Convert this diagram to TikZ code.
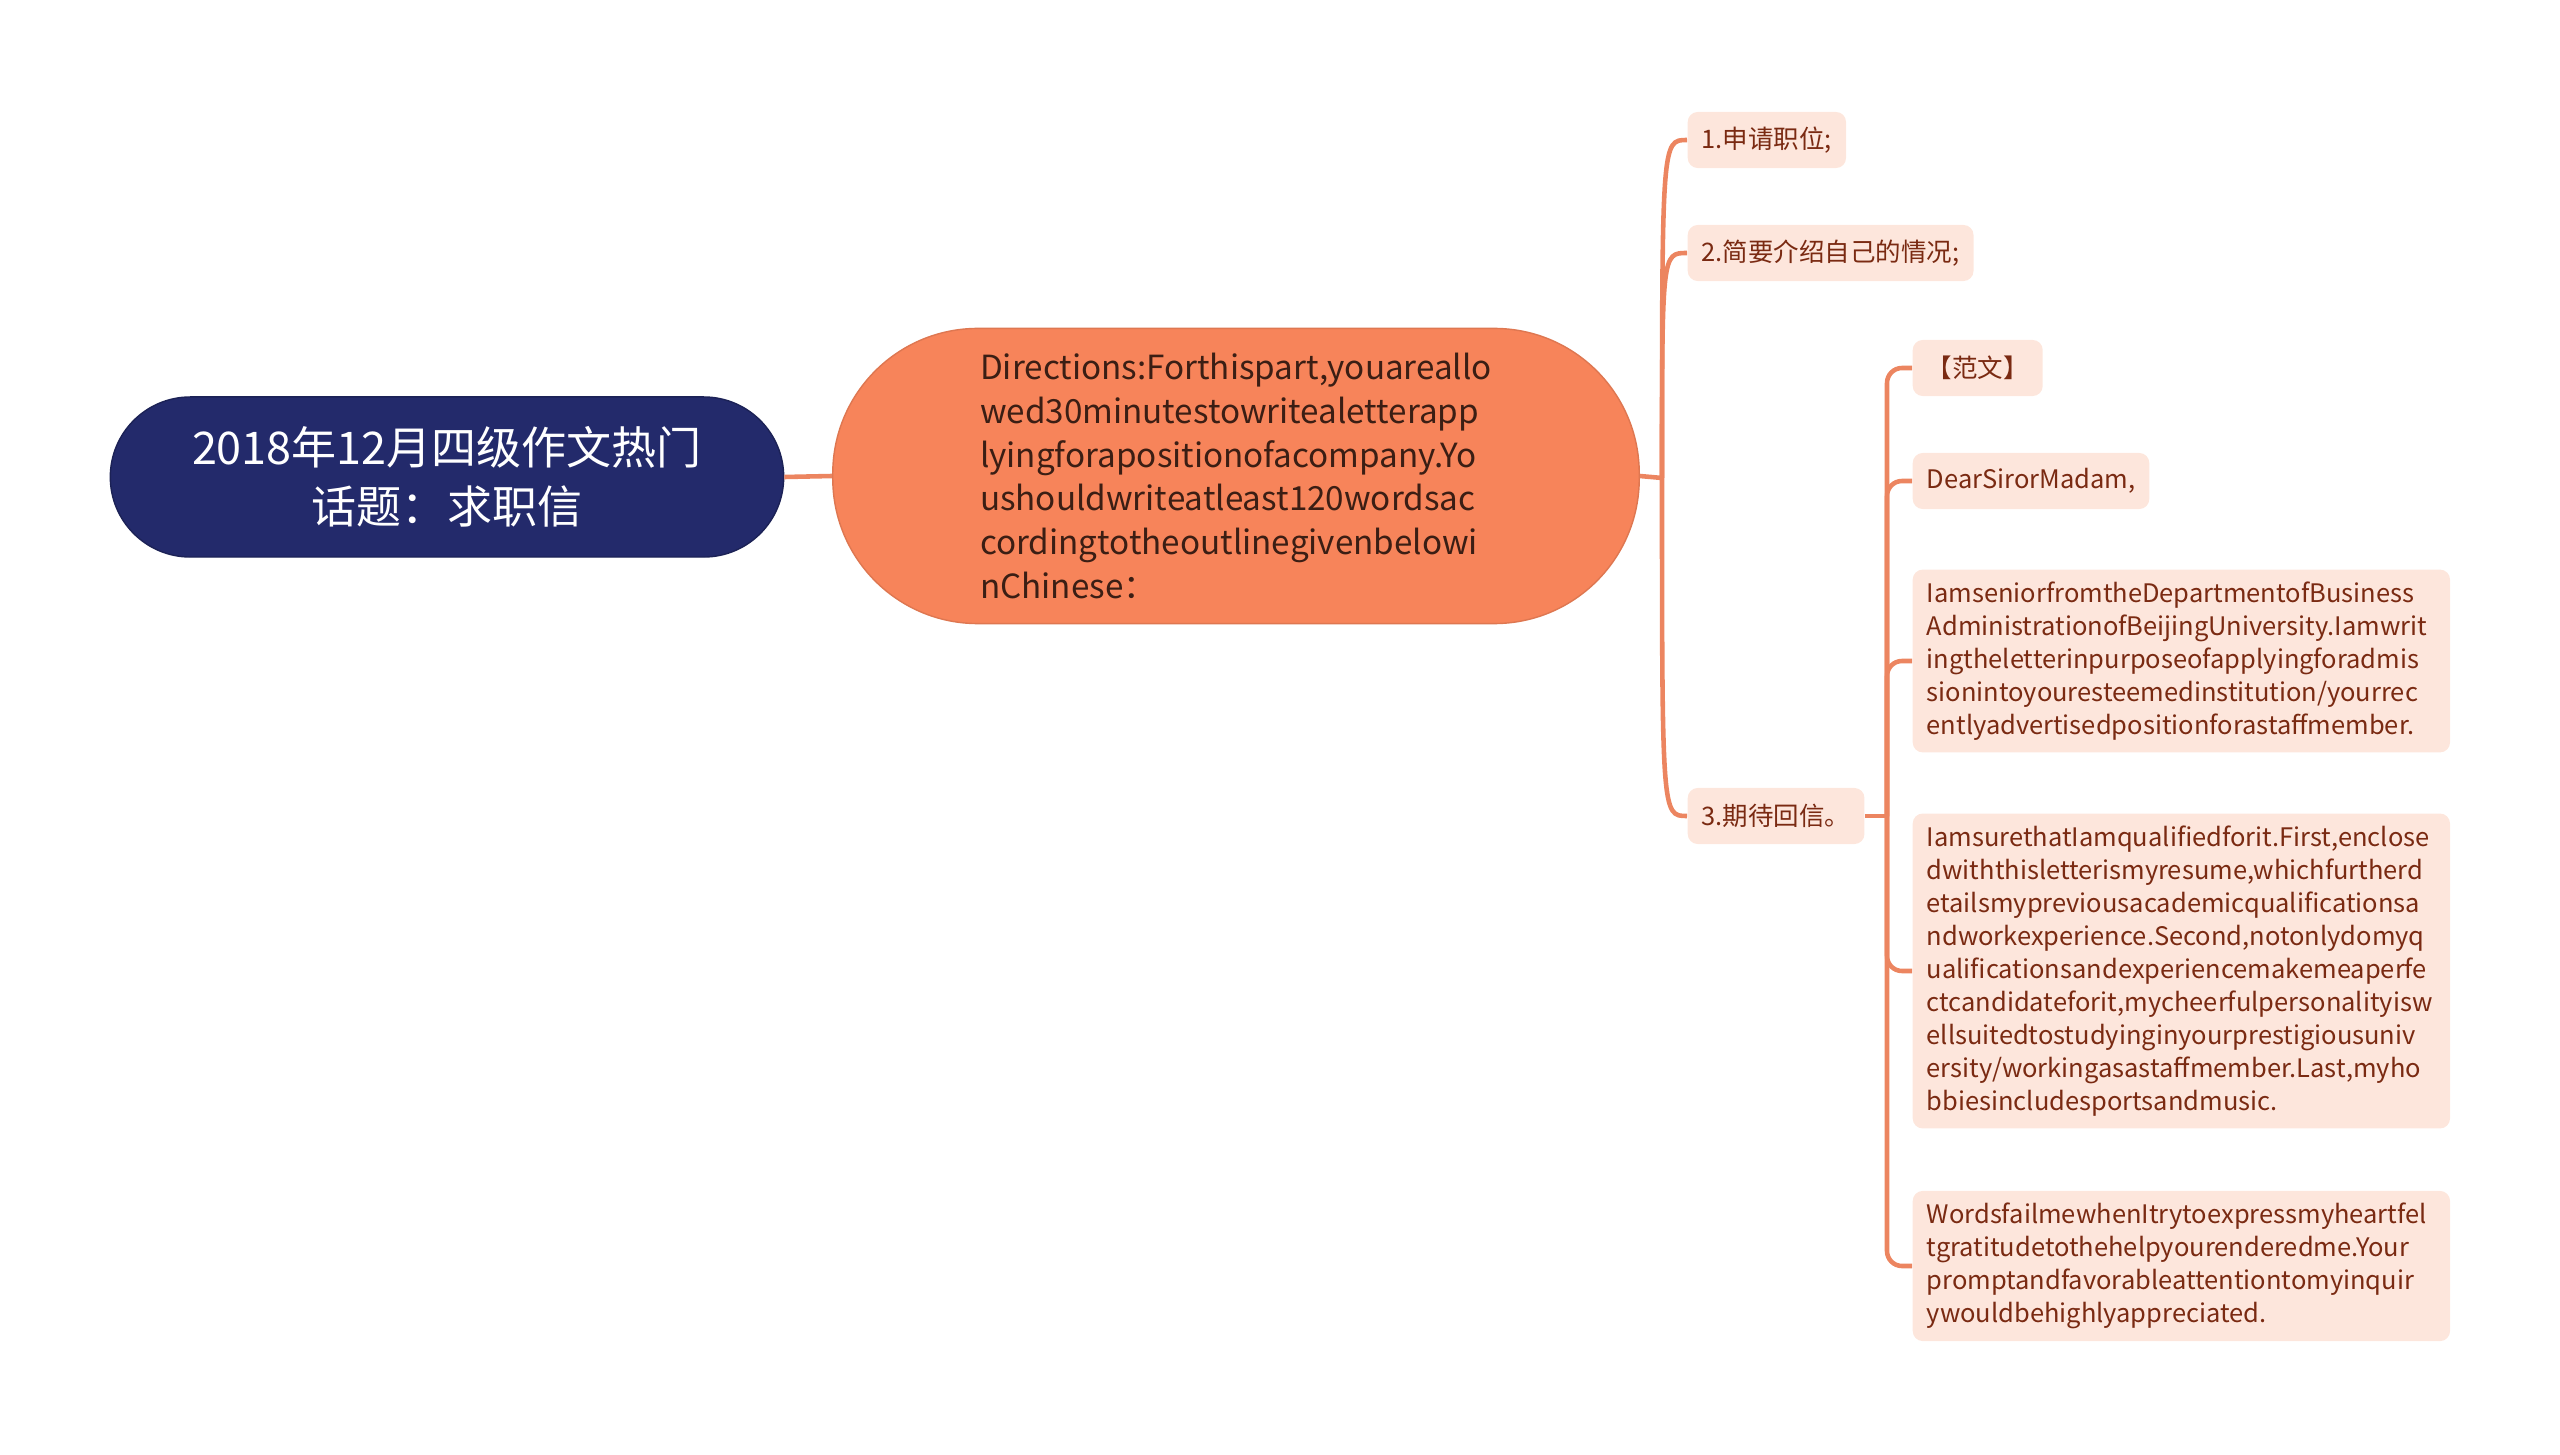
\documentclass[tikz,border=0pt]{standalone}
\usepackage{fontspec}
\setmainfont{Noto Sans CJK SC}
\usetikzlibrary{positioning,calc}

\definecolor{rootblue}{HTML}{232A6B}
\definecolor{mainorange}{HTML}{F7845A}
\definecolor{linkorange}{HTML}{EC8560}
\definecolor{leaffill}{HTML}{FDE6DC}
\definecolor{leaftext}{HTML}{7A2A12}
\definecolor{maintext}{HTML}{3B1E14}

\tikzset{
  rootbox/.style={draw=rootblue!80!black, fill=rootblue, text=white, rounded corners=0.8cm,
    minimum width=6.73cm, minimum height=1.6cm, align=center, font=\fontsize{12.8}{16.8}\selectfont},
  mainbox/.style={draw=mainorange!90!black, fill=mainorange, text=maintext, rounded corners=1.45cm,
    minimum width=8.06cm, minimum height=2.95cm, align=left, font=\fontsize{9.45}{12.5}\selectfont},
  leafbox/.style={fill=leaffill, text=leaftext, rounded corners=0.1cm, inner xsep=0.14cm,
    inner ysep=0.12cm, minimum height=0.56cm, align=left, anchor=west, font=\fontsize{7.25}{9.4}\selectfont},
  link/.style={draw=linkorange, line width=1.3pt},
}

\begin{document}
\begin{tikzpicture}[x=0.01cm, y=-0.01cm]
\useasboundingbox (0,0) rectangle (2560,1455);

\node[rootbox] (root) at (447,477) {2018年12月四级作文热门\\话题：求职信};
\node[mainbox] (main) at (1236,476) {Directions:Forthispart,youareallo\\wed30minutestowritealetterapp\\lyingforapositionofacompany.Yo\\ushouldwriteatleast120wordsac\\cordingtotheoutlinegivenbelowi\\nChinese：};

% outline points
\node[leafbox] (n1) at (1687,140) {1.申请职位;};
\node[leafbox] (n2) at (1687,253) {2.简要介绍自己的情况;};
\node[leafbox] (n3) at (1687,816) {3.期待回信。};

% model letter
\node[leafbox] (g1) at (1912,368) {【范文】};
\node[leafbox] (g2) at (1912,481) {DearSirorMadam,};
\node[leafbox, text width=5.09cm] (p1) at (1912,661) {IamseniorfromtheDepartmentofBusiness\\AdministrationofBeijingUniversity.Iamwrit\\ingtheletterinpurposeofapplyingforadmis\\sionintoyouresteemedinstitution/yourrec\\entlyadvertisedpositionforastaffmember.};
\node[leafbox, text width=5.09cm] (p2) at (1912,971) {IamsurethatIamqualifiedforit.First,enclose\\dwiththisletterismyresume,whichfurtherd\\etailsmypreviousacademicqualificationsa\\ndworkexperience.Second,notonlydomyq\\ualificationsandexperiencemakemeaperfe\\ctcandidateforit,mycheerfulpersonalityisw\\ellsuitedtostudyinginyourprestigiousuniv\\ersity/workingasastaffmember.Last,myho\\bbiesincludesportsandmusic.};
\node[leafbox, text width=5.09cm] (p3) at (1912,1266) {WordsfailmewhenItrytoexpressmyheartfel\\tgratitudetothehelpyourenderedme.Your\\promptandfavorableattentiontomyinquir\\ywouldbehighlyappreciated.};

\coordinate (hub) at (1662,478);
\coordinate (hubb) at (1887,816);
\draw[link] (root.east) -- (main.west);
\draw[link] (main.east) -- (hub);
\foreach \n in {n1,n2,n3}
  \draw[link] (hub) .. controls (hub |- \n.west) .. (\n.west);
\draw[link] (n3.east) -- (hubb);
\foreach \n in {g1,g2,p1,p2,p3}
  \draw[link, rounded corners=0.15cm] (hubb) |- (\n.west);
\end{tikzpicture}
\end{document}
